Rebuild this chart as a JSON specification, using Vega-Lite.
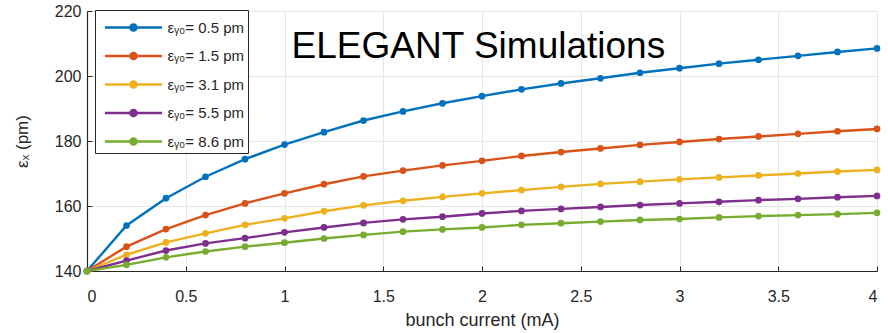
{
  "$schema": "https://vega.github.io/schema/vega-lite/v6.json",
  "autosize": {"type": "none"},
  "width": 790,
  "height": 260,
  "padding": {"left": 87, "top": 11, "right": 11, "bottom": 62},
  "background": "white",
  "config": {
    "font": "Liberation Sans",
    "view": {"stroke": null},
    "axis": {
      "gridColor": "#e6e6e6",
      "gridWidth": 1,
      "domainColor": "#262626",
      "domainWidth": 1.2,
      "tickColor": "#262626",
      "tickSize": -5,
      "labelColor": "#262626",
      "labelFont": "Liberation Sans",
      "labelFontSize": 16,
      "titleFont": "Liberation Sans",
      "titleFontSize": 18,
      "titleFontWeight": "normal",
      "titleColor": "#262626"
    }
  },
  "datasets": {
    "series": [
      {"current": 0, "emit": 140, "series": "εᵧ₀= 0.5 pm"},
      {"current": 0.2, "emit": 154.0, "series": "εᵧ₀= 0.5 pm"},
      {"current": 0.4, "emit": 162.4, "series": "εᵧ₀= 0.5 pm"},
      {"current": 0.6, "emit": 169.0, "series": "εᵧ₀= 0.5 pm"},
      {"current": 0.8, "emit": 174.4, "series": "εᵧ₀= 0.5 pm"},
      {"current": 1.0, "emit": 178.9, "series": "εᵧ₀= 0.5 pm"},
      {"current": 1.2, "emit": 182.7, "series": "εᵧ₀= 0.5 pm"},
      {"current": 1.4, "emit": 186.3, "series": "εᵧ₀= 0.5 pm"},
      {"current": 1.6, "emit": 189.1, "series": "εᵧ₀= 0.5 pm"},
      {"current": 1.8, "emit": 191.6, "series": "εᵧ₀= 0.5 pm"},
      {"current": 2.0, "emit": 193.8, "series": "εᵧ₀= 0.5 pm"},
      {"current": 2.2, "emit": 195.9, "series": "εᵧ₀= 0.5 pm"},
      {"current": 2.4, "emit": 197.7, "series": "εᵧ₀= 0.5 pm"},
      {"current": 2.6, "emit": 199.3, "series": "εᵧ₀= 0.5 pm"},
      {"current": 2.8, "emit": 201.0, "series": "εᵧ₀= 0.5 pm"},
      {"current": 3.0, "emit": 202.4, "series": "εᵧ₀= 0.5 pm"},
      {"current": 3.2, "emit": 203.8, "series": "εᵧ₀= 0.5 pm"},
      {"current": 3.4, "emit": 205.0, "series": "εᵧ₀= 0.5 pm"},
      {"current": 3.6, "emit": 206.2, "series": "εᵧ₀= 0.5 pm"},
      {"current": 3.8, "emit": 207.4, "series": "εᵧ₀= 0.5 pm"},
      {"current": 4.0, "emit": 208.5, "series": "εᵧ₀= 0.5 pm"},
      {"current": 0, "emit": 140, "series": "εᵧ₀= 1.5 pm"},
      {"current": 0.2, "emit": 147.5, "series": "εᵧ₀= 1.5 pm"},
      {"current": 0.4, "emit": 152.9, "series": "εᵧ₀= 1.5 pm"},
      {"current": 0.6, "emit": 157.2, "series": "εᵧ₀= 1.5 pm"},
      {"current": 0.8, "emit": 160.8, "series": "εᵧ₀= 1.5 pm"},
      {"current": 1.0, "emit": 163.9, "series": "εᵧ₀= 1.5 pm"},
      {"current": 1.2, "emit": 166.7, "series": "εᵧ₀= 1.5 pm"},
      {"current": 1.4, "emit": 169.1, "series": "εᵧ₀= 1.5 pm"},
      {"current": 1.6, "emit": 170.9, "series": "εᵧ₀= 1.5 pm"},
      {"current": 1.8, "emit": 172.5, "series": "εᵧ₀= 1.5 pm"},
      {"current": 2.0, "emit": 173.9, "series": "εᵧ₀= 1.5 pm"},
      {"current": 2.2, "emit": 175.4, "series": "εᵧ₀= 1.5 pm"},
      {"current": 2.4, "emit": 176.6, "series": "εᵧ₀= 1.5 pm"},
      {"current": 2.6, "emit": 177.7, "series": "εᵧ₀= 1.5 pm"},
      {"current": 2.8, "emit": 178.8, "series": "εᵧ₀= 1.5 pm"},
      {"current": 3.0, "emit": 179.7, "series": "εᵧ₀= 1.5 pm"},
      {"current": 3.2, "emit": 180.6, "series": "εᵧ₀= 1.5 pm"},
      {"current": 3.4, "emit": 181.4, "series": "εᵧ₀= 1.5 pm"},
      {"current": 3.6, "emit": 182.2, "series": "εᵧ₀= 1.5 pm"},
      {"current": 3.8, "emit": 183.0, "series": "εᵧ₀= 1.5 pm"},
      {"current": 4.0, "emit": 183.7, "series": "εᵧ₀= 1.5 pm"},
      {"current": 0, "emit": 140, "series": "εᵧ₀= 3.1 pm"},
      {"current": 0.2, "emit": 145.0, "series": "εᵧ₀= 3.1 pm"},
      {"current": 0.4, "emit": 148.8, "series": "εᵧ₀= 3.1 pm"},
      {"current": 0.6, "emit": 151.6, "series": "εᵧ₀= 3.1 pm"},
      {"current": 0.8, "emit": 154.2, "series": "εᵧ₀= 3.1 pm"},
      {"current": 1.0, "emit": 156.2, "series": "εᵧ₀= 3.1 pm"},
      {"current": 1.2, "emit": 158.4, "series": "εᵧ₀= 3.1 pm"},
      {"current": 1.4, "emit": 160.2, "series": "εᵧ₀= 3.1 pm"},
      {"current": 1.6, "emit": 161.6, "series": "εᵧ₀= 3.1 pm"},
      {"current": 1.8, "emit": 162.8, "series": "εᵧ₀= 3.1 pm"},
      {"current": 2.0, "emit": 163.9, "series": "εᵧ₀= 3.1 pm"},
      {"current": 2.2, "emit": 164.9, "series": "εᵧ₀= 3.1 pm"},
      {"current": 2.4, "emit": 165.9, "series": "εᵧ₀= 3.1 pm"},
      {"current": 2.6, "emit": 166.8, "series": "εᵧ₀= 3.1 pm"},
      {"current": 2.8, "emit": 167.5, "series": "εᵧ₀= 3.1 pm"},
      {"current": 3.0, "emit": 168.2, "series": "εᵧ₀= 3.1 pm"},
      {"current": 3.2, "emit": 168.8, "series": "εᵧ₀= 3.1 pm"},
      {"current": 3.4, "emit": 169.4, "series": "εᵧ₀= 3.1 pm"},
      {"current": 3.6, "emit": 170.0, "series": "εᵧ₀= 3.1 pm"},
      {"current": 3.8, "emit": 170.6, "series": "εᵧ₀= 3.1 pm"},
      {"current": 4.0, "emit": 171.1, "series": "εᵧ₀= 3.1 pm"},
      {"current": 0, "emit": 140, "series": "εᵧ₀= 5.5 pm"},
      {"current": 0.2, "emit": 143.2, "series": "εᵧ₀= 5.5 pm"},
      {"current": 0.4, "emit": 146.3, "series": "εᵧ₀= 5.5 pm"},
      {"current": 0.6, "emit": 148.5, "series": "εᵧ₀= 5.5 pm"},
      {"current": 0.8, "emit": 150.1, "series": "εᵧ₀= 5.5 pm"},
      {"current": 1.0, "emit": 151.9, "series": "εᵧ₀= 5.5 pm"},
      {"current": 1.2, "emit": 153.4, "series": "εᵧ₀= 5.5 pm"},
      {"current": 1.4, "emit": 154.8, "series": "εᵧ₀= 5.5 pm"},
      {"current": 1.6, "emit": 155.9, "series": "εᵧ₀= 5.5 pm"},
      {"current": 1.8, "emit": 156.7, "series": "εᵧ₀= 5.5 pm"},
      {"current": 2.0, "emit": 157.7, "series": "εᵧ₀= 5.5 pm"},
      {"current": 2.2, "emit": 158.5, "series": "εᵧ₀= 5.5 pm"},
      {"current": 2.4, "emit": 159.1, "series": "εᵧ₀= 5.5 pm"},
      {"current": 2.6, "emit": 159.7, "series": "εᵧ₀= 5.5 pm"},
      {"current": 2.8, "emit": 160.3, "series": "εᵧ₀= 5.5 pm"},
      {"current": 3.0, "emit": 160.8, "series": "εᵧ₀= 5.5 pm"},
      {"current": 3.2, "emit": 161.3, "series": "εᵧ₀= 5.5 pm"},
      {"current": 3.4, "emit": 161.8, "series": "εᵧ₀= 5.5 pm"},
      {"current": 3.6, "emit": 162.2, "series": "εᵧ₀= 5.5 pm"},
      {"current": 3.8, "emit": 162.7, "series": "εᵧ₀= 5.5 pm"},
      {"current": 4.0, "emit": 163.1, "series": "εᵧ₀= 5.5 pm"},
      {"current": 0, "emit": 140, "series": "εᵧ₀= 8.6 pm"},
      {"current": 0.2, "emit": 141.9, "series": "εᵧ₀= 8.6 pm"},
      {"current": 0.4, "emit": 144.2, "series": "εᵧ₀= 8.6 pm"},
      {"current": 0.6, "emit": 146.0, "series": "εᵧ₀= 8.6 pm"},
      {"current": 0.8, "emit": 147.5, "series": "εᵧ₀= 8.6 pm"},
      {"current": 1.0, "emit": 148.7, "series": "εᵧ₀= 8.6 pm"},
      {"current": 1.2, "emit": 150.0, "series": "εᵧ₀= 8.6 pm"},
      {"current": 1.4, "emit": 151.1, "series": "εᵧ₀= 8.6 pm"},
      {"current": 1.6, "emit": 152.1, "series": "εᵧ₀= 8.6 pm"},
      {"current": 1.8, "emit": 152.8, "series": "εᵧ₀= 8.6 pm"},
      {"current": 2.0, "emit": 153.4, "series": "εᵧ₀= 8.6 pm"},
      {"current": 2.2, "emit": 154.2, "series": "εᵧ₀= 8.6 pm"},
      {"current": 2.4, "emit": 154.7, "series": "εᵧ₀= 8.6 pm"},
      {"current": 2.6, "emit": 155.2, "series": "εᵧ₀= 8.6 pm"},
      {"current": 2.8, "emit": 155.7, "series": "εᵧ₀= 8.6 pm"},
      {"current": 3.0, "emit": 156.0, "series": "εᵧ₀= 8.6 pm"},
      {"current": 3.2, "emit": 156.5, "series": "εᵧ₀= 8.6 pm"},
      {"current": 3.4, "emit": 156.9, "series": "εᵧ₀= 8.6 pm"},
      {"current": 3.6, "emit": 157.2, "series": "εᵧ₀= 8.6 pm"},
      {"current": 3.8, "emit": 157.5, "series": "εᵧ₀= 8.6 pm"},
      {"current": 4.0, "emit": 157.9, "series": "εᵧ₀= 8.6 pm"}
    ],
    "annotation": [
      {"current": 1.036, "emit": 205.45, "label": "ELEGANT Simulations"}
    ]
  },
  "layer": [
    {
      "data": {"name": "series"},
      "mark": {"type": "line", "strokeWidth": 2.4, "clip": false},
      "encoding": {
        "x": {
          "field": "current", "type": "quantitative",
          "scale": {"domain": [0, 4], "nice": false, "zero": false},
          "axis": {
            "title": "bunch current (mA)",
            "values": [0, 0.5, 1, 1.5, 2, 2.5, 3, 3.5, 4],
            "labelExpr": "datum.value",
            "labelPadding": 22,
            "titlePadding": 7
          }
        },
        "y": {
          "field": "emit", "type": "quantitative",
          "scale": {"domain": [140, 220], "nice": false, "zero": false},
          "axis": {
            "title": "εₓ (pm)",
            "titleFontSize": 17,
            "values": [140, 160, 180, 200, 220],
            "labelPadding": 11,
            "titlePadding": 23
          }
        },
        "color": {
          "field": "series", "type": "nominal",
          "scale": {
            "domain": ["εᵧ₀= 0.5 pm", "εᵧ₀= 1.5 pm", "εᵧ₀= 3.1 pm", "εᵧ₀= 5.5 pm", "εᵧ₀= 8.6 pm"],
            "range": ["#0072BD", "#D95319", "#EDB120", "#7E2F8E", "#77AC30"]
          },
          "legend": {
            "title": null,
            "orient": "none",
            "legendX": 8,
            "legendY": -1,
            "strokeColor": "#262626",
            "fillColor": "white",
            "padding": 3,
            "rowPadding": 5.5,
            "symbolType": "M-2.2,0L2.2,0M0.24,0A0.24,0.24 0 1,1 -0.24,0A0.24,0.24 0 1,1 0.24,0Z",
            "symbolSize": 676,
            "symbolStrokeWidth": 2.4,
            "symbolOffset": 21,
            "labelFontSize": 15,
            "labelColor": "#262626",
            "labelFont": "Liberation Sans",
            "labelOffset": 19.5,
            "encode": {
              "symbols": {"update": {"fill": {"scale": "color", "field": "value"}, "fillOpacity": {"value": 1}}}
            }
          }
        }
      }
    },
    {
      "data": {"name": "series"},
      "mark": {"type": "point", "filled": true, "size": 45, "opacity": 1, "clip": false},
      "encoding": {
        "x": {"field": "current", "type": "quantitative"},
        "y": {"field": "emit", "type": "quantitative"},
        "color": {"field": "series", "type": "nominal"}
      }
    },
    {
      "data": {"name": "annotation"},
      "mark": {"type": "text", "align": "left", "baseline": "alphabetic", "fontSize": 37, "font": "Liberation Sans", "color": "black"},
      "encoding": {
        "x": {"field": "current", "type": "quantitative"},
        "y": {"field": "emit", "type": "quantitative"},
        "text": {"field": "label"}
      }
    }
  ]
}
